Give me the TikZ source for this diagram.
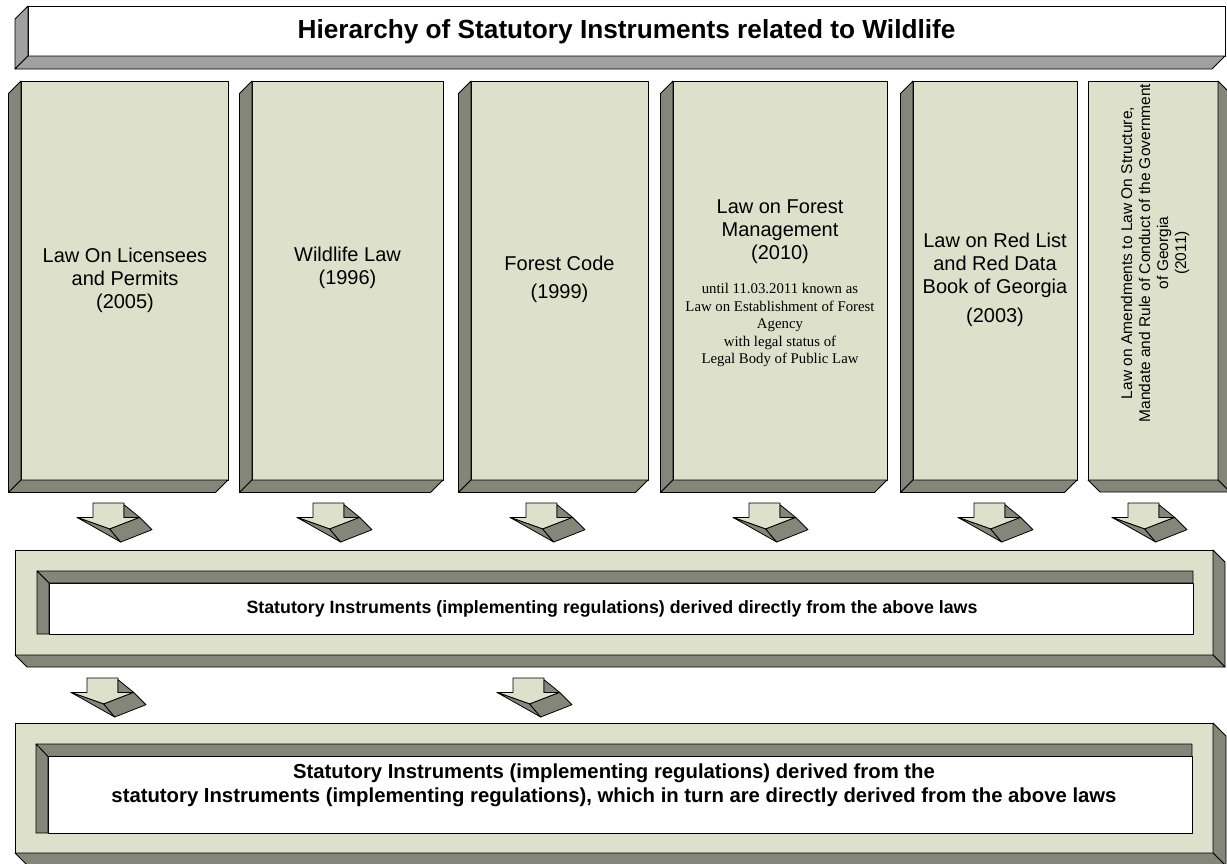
\documentclass[tikz,border=0pt]{standalone}
\usepackage{fontspec}
\setmainfont{Liberation Sans}
\newfontfamily\timesfont{Liberation Serif}
\definecolor{sage}{RGB}{221,224,203}
\definecolor{sagedark}{RGB}{131,134,120}
\definecolor{shadegray}{RGB}{160,160,160}

\tikzset{
  edge/.style={draw=black, line width=0.8pt, line join=round},
  face/.style={edge, fill=sage},
  side/.style={edge, fill=sagedark},
  greyside/.style={edge, fill=shadegray},
  lawtext/.style={align=center, inner sep=0pt, font=\fontsize{20}{23}\selectfont},
  smalltext/.style={align=center, inner sep=0pt, font=\timesfont\fontsize{14.8}{17.5}\selectfont},
  bartext/.style={align=center, inner sep=0pt, font=\bfseries\fontsize{17.8}{24}\selectfont},
  bigbartext/.style={align=center, inner sep=0pt, font=\bfseries\fontsize{20.3}{24}\selectfont},
  titletext/.style={inner sep=0pt, font=\bfseries\fontsize{26.2}{30}\selectfont},
  downarrow/.pic={
    % lying 3D block arrow, origin at the top left of the stem
    \draw[face] (0,0) -- (31,0) -- (31,14.4) -- (46.7,14.4) -- (16.7,26) -- (-16,14.4) -- (0,14.4) -- cycle;
    \draw[side] (31,1.7) -- (46.7,14.4) -- (31,14.4) -- cycle;
    \draw[side] (-16,14.4) -- (16.7,26) -- (27.7,39) -- cycle;
    \draw[side] (16.7,26) -- (46.7,14.4) -- (59,26.7) -- (27.7,39) -- cycle;
  }
}

\begin{document}
\begin{tikzpicture}[x=1pt, y=-1pt]
\useasboundingbox (0,0) rectangle (1227,863);

% ---------- title bar ----------
\draw[edge, fill=white] (28,6) rectangle (1225,56);
\draw[greyside] (28,6) -- (15,19) -- (15,69) -- (28,56) -- cycle;
\draw[greyside] (28,56) -- (1225,56) -- (1212,69) -- (15,69) -- cycle;
\node[titletext] (title) at (626.5,31.5) {Hierarchy of Statutory Instruments related to Wildlife};

% ---------- law boxes (depth towards the lower left) ----------
\foreach \a/\b in {21/228, 252/443, 471/648, 673/887, 913/1077}{
  \draw[face] (\a,81) rectangle (\b,480);
  \draw[side] (\a,81) -- (\a-12.5,93.5) -- (\a-12.5,492.5) -- (\a,480) -- cycle;
  \draw[side] (\a,480) -- (\b,480) -- (\b-12.5,492.5) -- (\a-12.5,492.5) -- cycle;
}
% last box has its depth towards the lower right
\draw[face] (1088,81) rectangle (1218,480);
\draw[side] (1218,81) -- (1230,93) -- (1230,492) -- (1218,480) -- cycle;
\draw[side] (1088,480) -- (1218,480) -- (1230,492) -- (1100,492) -- cycle;

\node[lawtext] (law1) at (125,280) {Law On Licensees\\and Permits\\(2005)};
\node[lawtext] (law2) at (347.5,268) {Wildlife Law\\(1996)};
\node[lawtext] (law3) at (559.5,279) {Forest Code\\[5pt](1999)};
\node[lawtext] (law4) at (780,232) {Law on Forest\\Management\\(2010)};
\node[smalltext] (law4b) at (780,325) {until 11.03.2011 known as\\Law on Establishment of Forest\\Agency\\with legal status of\\Legal Body of Public Law};
\node[lawtext] (law5) at (995,280) {Law on Red List\\and Red Data\\Book of Georgia\\[6pt](2003)};
\node[lawtext, rotate=90, font=\fontsize{15.5}{18}\selectfont] (law6) at (1155,253)
  {Law on Amendments to Law On Structure,\\Mandate and Rule of Conduct of the Government\\of Georgia\\(2011)};

% ---------- arrows from the laws ----------
\foreach \x in {93, 313, 526, 749, 974, 1128}{
  \pic at (\x,503) {downarrow};
}

% ---------- first level of statutory instruments ----------
\draw[face] (15,550) rectangle (1213,655);
\draw[side] (1213,550) -- (1225,562) -- (1225,667) -- (1213,655) -- cycle;
\draw[side] (15,655) -- (1213,655) -- (1225,667) -- (27,667) -- cycle;
\draw[edge, fill=white] (49,583) rectangle (1193,634);
\draw[side] (37,571) -- (1193,571) -- (1193,583) -- (49,583) -- cycle;
\draw[side] (37,571) -- (49,583) -- (49,634) -- (37,634) -- cycle;
\node[bartext] (si1) at (612,608.5) {Statutory Instruments (implementing regulations) derived directly from the above laws};

% ---------- arrows to the second level ----------
\foreach \x in {87, 513}{
  \pic at (\x,678) {downarrow};
}

% ---------- second level of statutory instruments ----------
\draw[face] (15,723) rectangle (1213,853);
\draw[side] (1213,723) -- (1226,736) -- (1226,866) -- (1213,853) -- cycle;
\draw[side] (15,853) -- (1213,853) -- (1226,866) -- (28,866) -- cycle;
\draw[edge, fill=white] (48,756.5) rectangle (1192,833);
\draw[side] (36,744) -- (1192,744) -- (1192,756.5) -- (48,756.5) -- cycle;
\draw[side] (36,744) -- (48,756.5) -- (48,833) -- (36,833) -- cycle;
\node[bigbartext] (si2) at (614,785) {Statutory Instruments (implementing regulations) derived from the\\statutory Instruments (implementing regulations), which in turn are directly derived from the above laws};
\end{tikzpicture}
\end{document}
